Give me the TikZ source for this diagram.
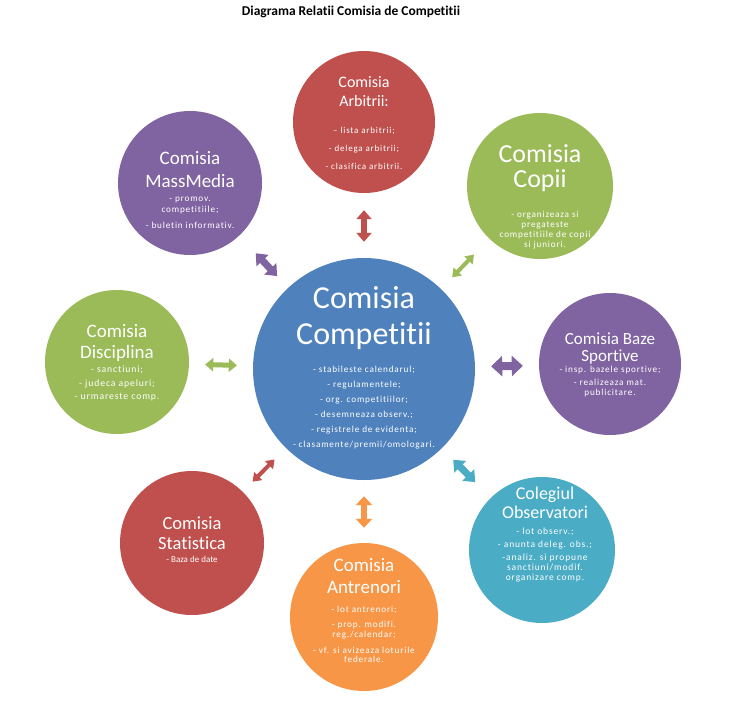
\documentclass[tikz,border=0pt]{standalone}
\usepackage{fontspec}
\setmainfont{Carlito}[Ligatures={NoCommon,NoRequired}]
\usetikzlibrary{positioning, arrows.meta}
\definecolor{Cb}{RGB}{79,129,189}
\definecolor{Cr}{RGB}{192,80,77}
\definecolor{Cg}{RGB}{155,187,89}
\definecolor{Cv}{RGB}{128,100,162}
\definecolor{Ct}{RGB}{75,172,198}
\definecolor{Co}{RGB}{247,150,70}
\tikzset{
  Circ/.style 2 args={
    circle, fill=#1, minimum size=#2, inner sep=0pt
  },
  Txt/.style 2 args={
    text=white, align=center, inner sep=0pt, anchor=north,
    font=\fontsize{#1}{#2}\selectfont
  },
  Itm/.style 2 args={
    Txt={#1}{#2},
    font=\fontsize{#1}{#2}\selectfont\addfontfeature{LetterSpace=9}
  },
  lnk/.style n args={4}{
    draw=#1, line width=#2, shorten <=16pt,
    {Triangle[width=#3,length=#4]}-{Triangle[width=#3,length=#4]}
  }
}

\begin{document}
\begin{tikzpicture}[x=1pt, y=-1pt]

\fill[white] (0,0) rectangle (738,701);
\useasboundingbox (0,0) rectangle (738,701);

% ─────────────────────────────────────────────────────────────────────────────
%  TITLE
% ─────────────────────────────────────────────────────────────────────────────
\node[font=\bfseries\fontsize{13.5}{15}\selectfont] (hdr) at (351,12)
  {Diagrama Relatii Comisia de Competitii};

% ─────────────────────────────────────────────────────────────────────────────
%  CENTRE
% ─────────────────────────────────────────────────────────────────────────────
\node[Circ={Cb}{222pt}] (cc) at (364,369) {};
\node[Txt={32}{36}] (ccT) at (364,286) {Comisia\\Competitii};
\node[Itm={9.2}{15}] (ccL) at (364,366)
  {- stabileste calendarul;\\- regulamentele;\\- org. competitiilor;\\
   - desemneaza observ.;\\- registrele de evidenta;\\- clasamente/premii/omologari.};

% ─────────────────────────────────────────────────────────────────────────────
%  SATELLITES
% ─────────────────────────────────────────────────────────────────────────────
\node[Circ={Cr}{142pt}] (arb) at (364,122) {};
\node[Txt={16}{19}] (arbT) at (364,76) {Comisia\\Arbitrii:};
\node[Itm={9}{18}] (arbL) at (364,127)
  {– lista arbitrii;\\- delega arbitrii;\\- clasifica arbitrii.};

\node[Circ={Cg}{146pt}] (cop) at (540,186) {};
\node[Txt={26}{25}] (copT) at (540,144) {Comisia\\Copii};
\node[Itm={9.2}{10}] (copL) at (545,211)
  {- organizeaza si\\pregateste\\competitiile de copii\\si juniori.};

\node[Circ={Cv}{144pt}] (mm) at (190,183) {};
\node[Txt={19}{23}] (mmT) at (190,151) {Comisia\\MassMedia};
\node[Itm={9.2}{11}] (mmL) at (190,197)
  {- promov.\\competitiile;\\[5pt]- buletin informativ.};

\node[Circ={Cg}{144pt}] (dis) at (117,362) {};
\node[Txt={19}{21}] (disT) at (117,324) {Comisia\\Disciplina};
\node[Itm={9.7}{13.5}] (disL) at (117,366)
  {- sanctiuni;\\- judeca apeluri;\\- urmareste comp.};

\node[Circ={Cv}{142pt}] (bs) at (610,364) {};
\node[Txt={17}{17}] (bsT) at (610,333) {Comisia Baze\\Sportive};
\node[Itm={9.2}{9.5}] (bsL) at (610,366)
  {- insp. bazele sportive;\\[3.5pt]- realizeaza mat.\\publicitare.};

\node[Circ={Ct}{146pt}] (obs) at (542,550) {};
\node[Txt={18}{19}] (obsT) at (545,487) {Colegiul\\Observatori};
\node[Itm={9.5}{10}] (obsL) at (545,528)
  {- lot observ.;\\[3pt]- anunta deleg. obs.;\\[3pt]-analiz. si propune\\
   sanctiuni/modif.\\organizare comp.};

\node[Circ={Cr}{144pt}] (st) at (192,543) {};
\node[Txt={18.5}{20}] (stT) at (192,517) {Comisia\\Statistica};
\node[Txt={9}{10}] (stL) at (192,556) {- Baza de date};

\node[Circ={Co}{148pt}] (an) at (364,617) {};
\node[Txt={19}{22}] (anT) at (364,558) {Comisia\\Antrenori};
\node[Itm={9.2}{9.5}] (anL) at (364,606)
  {- lot antrenori;\\[5.5pt]- prop. modifi.\\reg./calendar;\\[6.5pt]
   - vf. si avizeaza loturile\\federale.};

% ─────────────────────────────────────────────────────────────────────────────
%  DOUBLE ARROWS
% ─────────────────────────────────────────────────────────────────────────────
\draw[lnk={Cr}{6pt}{15pt}{9pt}, shorten >=17pt] (cc) -- (arb);
\draw[lnk={Co}{6pt}{16pt}{9pt}, shorten >=15pt] (cc) -- (an);
\draw[lnk={Cg}{5pt}{13pt}{8pt}, shorten >=16pt] (cc) -- (dis);
\draw[lnk={Cv}{8pt}{20pt}{11pt}, shorten >=16pt] (cc) -- (bs);

\draw[lnk={Cv}{7pt}{16pt}{10pt}, shorten >=24pt] (cc) -- (mm);
\draw[lnk={Cg}{4pt}{11pt}{8pt}, shorten >=22pt] (cc) -- (cop);
\draw[lnk={Cr}{4pt}{11pt}{8pt}, shorten >=14pt] (cc) -- (st);
\draw[lnk={Ct}{7pt}{16pt}{10pt}, shorten >=22pt] (cc) -- (obs);

\end{tikzpicture}
\end{document}
